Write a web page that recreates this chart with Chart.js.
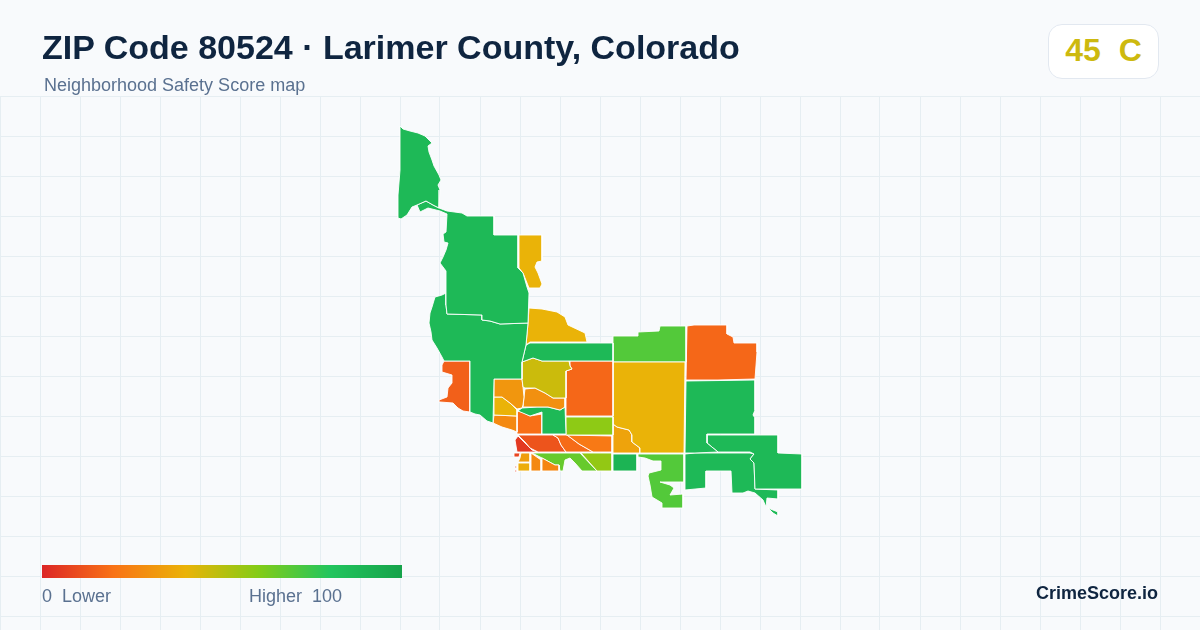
<!DOCTYPE html>
<html>
<head>
<meta charset="utf-8">
<title>ZIP Code 80524</title>
<script src="https://cdn.jsdelivr.net/npm/chart.js@4"></script>
<style>
  html, body { margin: 0; padding: 0; background: #f8fafc; }
  body { width: 1200px; height: 630px; position: relative; overflow: hidden; font-family: "Liberation Sans", Arial, sans-serif; }
  #map { position: absolute; left: 0; top: 0; }
  .txt { position: absolute; white-space: pre; }
  #title { left: 42px; top: 27px; font-size: 34px; line-height: 40px; font-weight: 700; color: #0f2540; }
  #subtitle { left: 44px; top: 75px; font-size: 18px; line-height: 20px; color: #5a7190; }
  #badge { position: absolute; left: 1048px; top: 24px; width: 109px; height: 53px; background: #fff; border: 1px solid #e2e8f0; border-radius: 14px; text-align: center; font-size: 32px; line-height: 51px; font-weight: 700; color: #cdb90f; white-space: pre; }
  #bar { position: absolute; left: 42px; top: 565px; width: 360px; height: 13px; }
  #low { left: 42px; top: 586px; font-size: 18px; line-height: 20px; color: #5a7190; }
  #high { left: 249px; top: 586px; font-size: 18px; line-height: 20px; color: #5a7190; }
  #brand { right: 42px; top: 583px; font-size: 18px; line-height: 20px; font-weight: 700; color: #0f2540; }
</style>
</head>
<body>
<canvas id="map" width="1200" height="630"></canvas>
<div class="txt" id="title">ZIP Code 80524 · Larimer County, Colorado</div>
<div class="txt" id="subtitle">Neighborhood Safety Score map</div>
<div id="badge">45  C</div>
<div id="bar"></div>
<div class="txt" id="low">0  Lower</div>
<div class="txt" id="high">Higher  100</div>
<div class="txt" id="brand">CrimeScore.io</div>
<script>
// colour ramp of the score legend
const rampStops = [0, 20, 40, 60, 80, 100];
const rampColors = [[220, 38, 38], [249, 115, 22], [234, 179, 8], [132, 204, 22], [34, 197, 94], [22, 163, 74]];

// grid lines of the map
const gridX = [0, 40, 80, 120, 160, 200, 240, 280, 320, 360, 400, 440, 480, 520, 560, 600, 640, 680, 720, 760, 800, 840, 880, 920, 960, 1000, 1040, 1080, 1120, 1160, 1200];
const gridY = [96, 136, 176, 216, 256, 296, 336, 376, 416, 456, 496, 536, 576, 616];

// neighborhood scores
const scores = [
  87, 87, 87, 40, 15, 40, 87, 46, 17, 31,
  40, 27, 29, 87, 19, 22, 58, 40, 35, 70,
  17, 87, 87, 87, 87, 70, 90, 57, 22, 18,
  12, 5, 8, 33, 38, 27, 26, 66, 5, 5
];

// neighborhood outlines, in map units
const outlines = [
  [[400,126],[403,129],[410,131],[418,133],[425,136],[432,143],[428,146],[429,152],[432,160],[434,166],[439,175],[441,180],[438,185],[440,190],[439,208],[433,205],[426,201],[417,205],[412,207],[407,215],[401,219],[398,218],[398,195],[400,170]],
  [[417,205],[426,201],[433,205],[439,208],[447,211],[462,213],[467,216],[494,216],[494,235],[518,235],[518,268],[523,273],[527,287],[529,293],[528,323],[500,324],[490,321],[482,320],[482,315],[447,314],[446,305],[446,271],[440,263],[443,257],[446,250],[448,243],[444,242],[443,234],[446,232],[447,214],[440,211],[428,208],[420,212]],
  [[446,293],[446,305],[447,314],[482,315],[482,320],[490,321],[500,324],[528,323],[526,345],[522,362],[522,379],[494,379],[493,423],[487,421],[480,415],[475,414],[470,412],[470,361],[444,361],[442,357],[437,348],[432,340],[431,332],[429,323],[430,313],[432,307],[435,297],[442,295]],
  [[519,235],[542,235],[542,261],[537,262],[535,267],[538,273],[542,284],[540,288],[529,288],[525,278],[523,273],[519,268]],
  [[444,361],[470,361],[470,412],[463,411],[458,408],[453,403],[440,402],[439,400],[447,397],[448,388],[452,383],[452,375],[442,372],[442,365]],
  [[529,308],[542,309],[557,312],[565,317],[568,325],[585,333],[587,342],[530,342],[526,345],[528,323]],
  [[530,343],[613,343],[613,361],[542,361],[533,358],[522,362],[526,345]],
  [[522,362],[533,358],[542,361],[569,361],[570,366],[572,369],[566,371],[566,398],[553,398],[545,393],[535,388],[525,388],[523,387],[522,379]],
  [[570,361],[613,361],[613,416],[566,416],[566,371],[572,369],[570,366]],
  [[494,379],[522,379],[523,387],[524,397],[523,405],[522,408],[517,409],[510,403],[502,397],[494,397]],
  [[494,397],[502,397],[510,403],[517,410],[517,416],[494,415]],
  [[494,415],[517,416],[517,432],[512,430],[502,427],[493,423]],
  [[525,389],[535,388],[545,393],[553,398],[565,398],[565,407],[560,410],[548,407],[537,407],[523,407],[524,397]],
  [[518,411],[522,408],[537,407],[548,407],[560,410],[565,407],[566,434],[542,434],[542,412],[530,416]],
  [[517,411],[522,412],[530,416],[542,414],[542,434],[517,434]],
  [[522,413],[528,417],[529,426],[518,426],[518,413]],
  [[566,417],[613,417],[613,435],[566,435]],
  [[613,362],[632,362],[685,362],[684,453],[640,453],[640,448],[632,442],[632,435],[629,430],[617,427],[613,424]],
  [[613,424],[617,427],[629,430],[632,435],[632,442],[640,448],[640,453],[613,453]],
  [[613,336],[638,336],[638,332],[659,331],[660,326],[686,326],[686,362],[613,362]],
  [[687,326],[694,325],[727,325],[727,334],[733,337],[734,343],[757,343],[757,352],[755,379],[718,380],[686,380]],
  [[686,381],[755,380],[755,410],[753,415],[755,418],[755,434],[707,434],[707,443],[718,452],[695,453],[685,453]],
  [[707,435],[778,435],[778,453],[802,454],[802,489],[755,489],[754,463],[750,459],[754,454],[750,452],[718,452],[707,443]],
  [[685,454],[695,453],[750,453],[754,454],[750,459],[754,463],[755,489],[778,490],[778,499],[767,498],[766,507],[763,500],[755,493],[748,491],[743,493],[732,493],[731,471],[706,471],[706,488],[685,490]],
  [[768,508],[778,512],[778,516],[773,513]],
  [[638,454],[684,454],[684,482],[660,482],[670,485],[674,488],[670,495],[683,494],[683,508],[662,508],[662,503],[652,497],[650,485],[648,476],[649,473],[661,470],[661,461],[653,461],[645,458],[638,457]],
  [[613,454],[637,454],[637,471],[613,471]],
  [[581,453],[612,453],[612,471],[597,471]],
  [[567,435],[612,436],[612,452],[593,452],[579,444]],
  [[553,435],[567,435],[579,444],[593,452],[566,452],[561,445],[558,438]],
  [[518,435],[553,435],[558,438],[561,445],[566,452],[538,452],[530,448],[525,442]],
  [[518,436],[525,443],[532,450],[538,452],[517,452],[515,440]],
  [[514,453],[520,453],[519,457],[514,457]],
  [[521,453],[530,453],[530,462],[518,462],[520,458]],
  [[518,463],[530,463],[530,471],[518,471]],
  [[531,453],[541,460],[541,471],[531,471]],
  [[542,458],[555,465],[559,465],[559,471],[542,471]],
  [[532,453],[580,453],[597,471],[582,471],[575,463],[570,458],[565,460],[563,471],[560,471],[559,465],[555,465],[542,458]],
  [[515,466],[517,466],[517,468],[515,468]],
  [[515,470],[517,470],[517,472],[515,472]]
];

function scoreColor(score) {
  let i = 0;
  while (i < rampStops.length - 2 && score > rampStops[i + 1]) i++;
  const t = (score - rampStops[i]) / (rampStops[i + 1] - rampStops[i]);
  const c = rampColors[i].map((v, k) => Math.round(v + (rampColors[i + 1][k] - v) * t));
  return `rgb(${c[0]}, ${c[1]}, ${c[2]})`;
}

document.getElementById('bar').style.background =
  'linear-gradient(to right, ' + rampStops.map((s, i) => `rgb(${rampColors[i].join(',')}) ${s}%`).join(', ') + ')';

const ctx = document.getElementById('map').getContext('2d');

const myChart = new Chart(ctx, {
    type: 'scatter',
    data: {
        datasets: outlines.map((outline, i) => ({
            data: outline.concat([outline[0]]).map(p => ({ x: p[0], y: p[1] })),
            showLine: true,
            fill: 'shape',
            tension: 0,
            backgroundColor: scoreColor(scores[i]),
            borderColor: '#ffffff',
            borderWidth: 0.9,
            pointRadius: 0
        }))
    },
    options: {
        responsive: false,
        animation: false,
        events: [],
        layout: { padding: { top: 96 } },
        plugins: {
            legend: { display: false },
            tooltip: { enabled: false }
        },
        scales: {
            x: {
                min: 0,
                max: 1200,
                border: { display: false },
                afterBuildTicks: axis => { axis.ticks = gridX.map(v => ({ value: v })); },
                ticks: { display: false },
                grid: { color: '#e6eef2', lineWidth: 1, drawTicks: false }
            },
            y: {
                min: 96,
                max: 630,
                reverse: true,
                border: { display: false },
                afterBuildTicks: axis => { axis.ticks = gridY.map(v => ({ value: v })); },
                ticks: { display: false },
                grid: { color: '#e6eef2', lineWidth: 1, drawTicks: false }
            }
        }
    }
});
</script>
</body>
</html>
